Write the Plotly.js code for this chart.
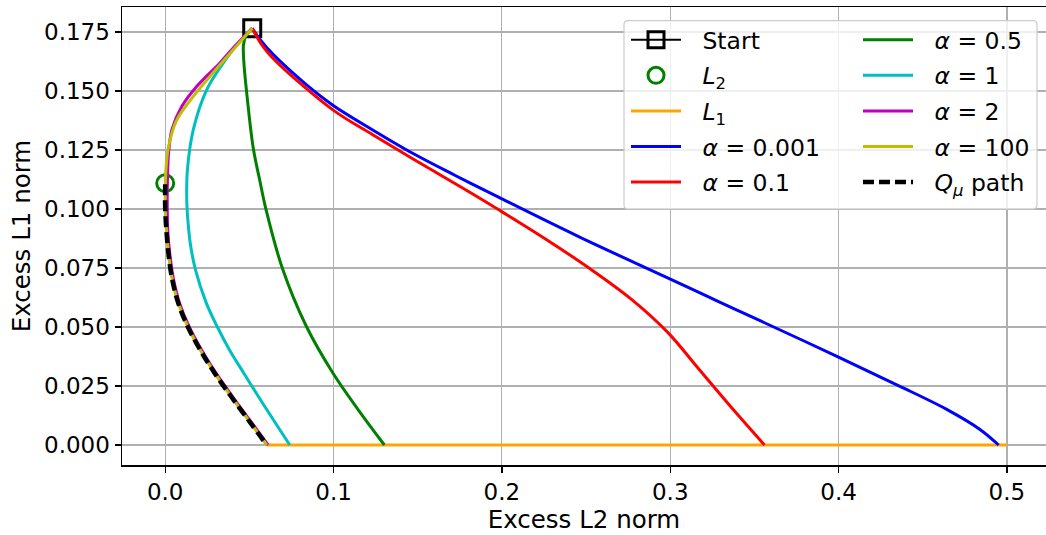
<!DOCTYPE html>
<html>
<head>
<meta charset="utf-8">
<script src="https://cdn.plot.ly/plotly-3.0.1.min.js"></script>
<style>html,body{margin:0;padding:0;background:#fff;}#chart{width:1046px;height:535px;}</style>
</head>
<body>
<div id="chart"></div>
<script>
// ---- data ----
const startX = [0.0517];
const startY = [0.1766];
const l2X = [0.0];
const l2Y = [0.1109];
const l1X = [0.0603, 0.5];
const l1Y = [0.0, 0.0];

const a0001X = [0.0517,0.0570,0.0641,0.0838,0.0996,0.1233,0.1470,0.1726,0.1980,0.2456,0.2988,0.3284,0.3560,0.3984,0.4349,0.4645,0.4842,0.4951];
const a0001Y = [0.1766,0.1712,0.1655,0.1527,0.1440,0.1335,0.1236,0.1141,0.1050,0.0883,0.0707,0.0609,0.0518,0.0378,0.0254,0.0150,0.0065,0.0];

const a01X = [0.0517,0.0570,0.0641,0.0996,0.1233,0.1470,0.1726,0.1864,0.1990,0.2259,0.2515,0.2770,0.2988,0.3166,0.3360,0.3560];
const a01Y = [0.1766,0.1700,0.1638,0.1420,0.1315,0.1213,0.1106,0.1048,0.0993,0.0873,0.0751,0.0617,0.0475,0.0325,0.0162,0.0];

const a05X = [0.0517,0.0480,0.0465,0.0467,0.0483,0.0523,0.0561,0.0599,0.0696,0.0839,0.0997,0.1148,0.1302];
const a05Y = [0.1766,0.1735,0.1695,0.1626,0.1500,0.1258,0.1124,0.0997,0.0749,0.0502,0.0304,0.0148,0.0];

const a1X = [0.0517,0.0420,0.0345,0.0247,0.0167,0.0132,0.0128,0.0135,0.0150,0.0180,0.0245,0.0310,0.0382,0.0471,0.0563,0.0740];
const a1Y = [0.1766,0.1690,0.1619,0.1506,0.1336,0.1166,0.1039,0.0950,0.0850,0.0742,0.0600,0.0500,0.0403,0.0300,0.0195,0.0];

const a2X = [0.0517,0.0420,0.0325,0.0188,0.0099,0.0040,0.0020,0.0014,0.0012,0.0016,0.0029,0.0050,0.0086,0.0143,0.0218,0.0306,0.0405,0.0508,0.0611];
const a2Y = [0.1766,0.1695,0.1619,0.1520,0.1435,0.1336,0.1237,0.1138,0.1039,0.0900,0.0800,0.0700,0.0600,0.0500,0.0400,0.0300,0.0200,0.0100,0.0];

const a100X = [0.0517,0.0167,0.0069,0.0020,0.0003,0.0,0.0,0.0008,0.0021,0.0042,0.0078,0.0135,0.0210,0.0298,0.0397,0.0500,0.0603];
const a100Y = [0.1766,0.1477,0.1378,0.1265,0.1152,0.1039,0.1000,0.0900,0.0800,0.0700,0.0600,0.0500,0.0400,0.0300,0.0200,0.0100,0.0];

const qX = [0.0,0.0,0.0008,0.0021,0.0042,0.0078,0.0135,0.0210,0.0298,0.0397,0.0500,0.0603];
const qY = [0.1105,0.1000,0.0900,0.0800,0.0700,0.0600,0.0500,0.0400,0.0300,0.0200,0.0100,0.0];

const xTicks = [0.0,0.1,0.2,0.3,0.4,0.5];
const xTickText = ['0.0','0.1','0.2','0.3','0.4','0.5'];
const yTicks = [0.0,0.025,0.05,0.075,0.1,0.125,0.15,0.175];
const yTickText = ['0.000','0.025','0.050','0.075','0.100','0.125','0.150','0.175'];

// ---- traces ----
const FONT = 'DejaVu Sans';
const LW = 3;
const PAD = '\u2002\u2009';
function line(x, y, name, color, legend, rank, extra) {
  return Object.assign({
    type: 'scatter', mode: 'lines', x: x, y: y, name: PAD + name,
    line: {color: color, width: LW, shape: 'spline', smoothing: 1}, legend: legend, legendrank: rank,
    legendgroup: name, hoverinfo: 'skip'
  }, extra || {});
}
const traces = [
  {type:'scatter', mode:'lines+markers', x:startX, y:startY, name:PAD + 'Start',
   line:{color:'black', width:2}, marker:{symbol:'square-open', size:17, color:'black', line:{width:3, color:'black'}},
   legend:'legend', legendrank:1, legendgroup:'s'},
  {type:'scatter', mode:'markers', x:l2X, y:l2Y, name:PAD + '<i>L</i><sub>2</sub>',
   marker:{symbol:'circle-open', size:17, color:'#008000', line:{width:3, color:'#008000'}},
   legend:'legend', legendrank:2, legendgroup:'l2'},
  line(l1X, l1Y, '<i>L</i><sub>1</sub>', '#ffa500', 'legend', 3, {line:{color:'#ffa500', width:LW}}),
  line(a0001X, a0001Y, '<i>α</i> = 0.001', '#0000ff', 'legend', 4),
  line(a01X, a01Y, '<i>α</i> = 0.1', '#ff0000', 'legend', 5),
  line(a05X, a05Y, '<i>α</i> = 0.5', '#008000', 'legend2', 6),
  line(a1X, a1Y, '<i>α</i> = 1', '#00bfbf', 'legend2', 7),
  line(a2X, a2Y, '<i>α</i> = 2', '#bf00bf', 'legend2', 8),
  line(a100X, a100Y, '<i>α</i> = 100', '#bfbf00', 'legend2', 9),
  line(qX, qY, '<i>Q</i><sub><i>μ</i></sub> path', 'black', 'legend2', 10,
       {line:{color:'black', width:4.5, dash:'11px,5px', shape:'spline', smoothing:1}})
];

// legend box (rounded) in paper coords
const L = 122, T = 7, W = 924, H = 458;
function px2paperX(p){ return (p - L) / W; }
function px2paperY(p){ return (T + H - p) / H; }
const bx0 = px2paperX(624), bx1 = px2paperX(1037), by1 = px2paperY(20.7), by0 = px2paperY(209);
const rx = 4 / W, ry = 4 / H;
const boxPath = `M ${bx0+rx},${by0} L ${bx1-rx},${by0} Q ${bx1},${by0} ${bx1},${by0+ry} L ${bx1},${by1-ry} Q ${bx1},${by1} ${bx1-rx},${by1} L ${bx0+rx},${by1} Q ${bx0},${by1} ${bx0},${by1-ry} L ${bx0},${by0+ry} Q ${bx0},${by0} ${bx0+rx},${by0} Z`;

const legendCommon = {
  bgcolor: 'rgba(0,0,0,0)', borderwidth: 0,
  font: {family: FONT, size: 23.5, color: 'black'},
  xanchor: 'left', yanchor: 'top', traceorder: 'grouped', tracegroupgap: 2,
  itemwidth: 50, itemclick: false
};

const layout = {
  width: 1046, height: 535,
  margin: {l: L, r: 0, t: T, b: 535 - T - H, pad: 0},
  paper_bgcolor: 'white', plot_bgcolor: 'white',
  font: {family: FONT, size: 23, color: 'black'},
  showlegend: true,
  legend: Object.assign({x: px2paperX(626), y: px2paperY(18)}, legendCommon),
  legend2: Object.assign({x: px2paperX(858), y: px2paperY(18)}, legendCommon),
  xaxis: {
    range: [(122 - 165.2) / 1683.4, (1046 - 165.2) / 1683.4],
    tickvals: xTicks, ticktext: xTickText,
    showgrid: true, gridcolor: '#b0b0b0', gridwidth: 1.2,
    zeroline: false, showline: true, linecolor: 'black', linewidth: 1.5, mirror: true,
    ticks: 'outside', ticklen: 6, tickwidth: 1.3, tickcolor: 'black',
    tickfont: {family: FONT, size: 23, color: 'black'},
    title: {text: 'Excess L2 norm', font: {family: FONT, size: 24.5, color: 'black'}, standoff: 6}
  },
  yaxis: {
    range: [-(465 - 445) / 2360, (445 - 7) / 2360],
    tickvals: yTicks, ticktext: yTickText,
    showgrid: true, gridcolor: '#b0b0b0', gridwidth: 1.2,
    zeroline: false, showline: true, linecolor: 'black', linewidth: 1.5, mirror: false,
    ticks: 'outside', ticklen: 6, tickwidth: 1.3, tickcolor: 'black',
    tickfont: {family: FONT, size: 23, color: 'black'},
    title: {text: 'Excess L1 norm', font: {family: FONT, size: 24.5, color: 'black'}, standoff: 6}
  },
  shapes: [{
    type: 'path', xref: 'paper', yref: 'paper', path: boxPath, layer: 'above',
    fillcolor: 'rgba(255,255,255,0.8)', line: {color: '#cccccc', width: 1.2}
  }]
};

Plotly.newPlot('chart', traces, layout, {staticPlot: true, displayModeBar: false});
</script>
</body>
</html>
